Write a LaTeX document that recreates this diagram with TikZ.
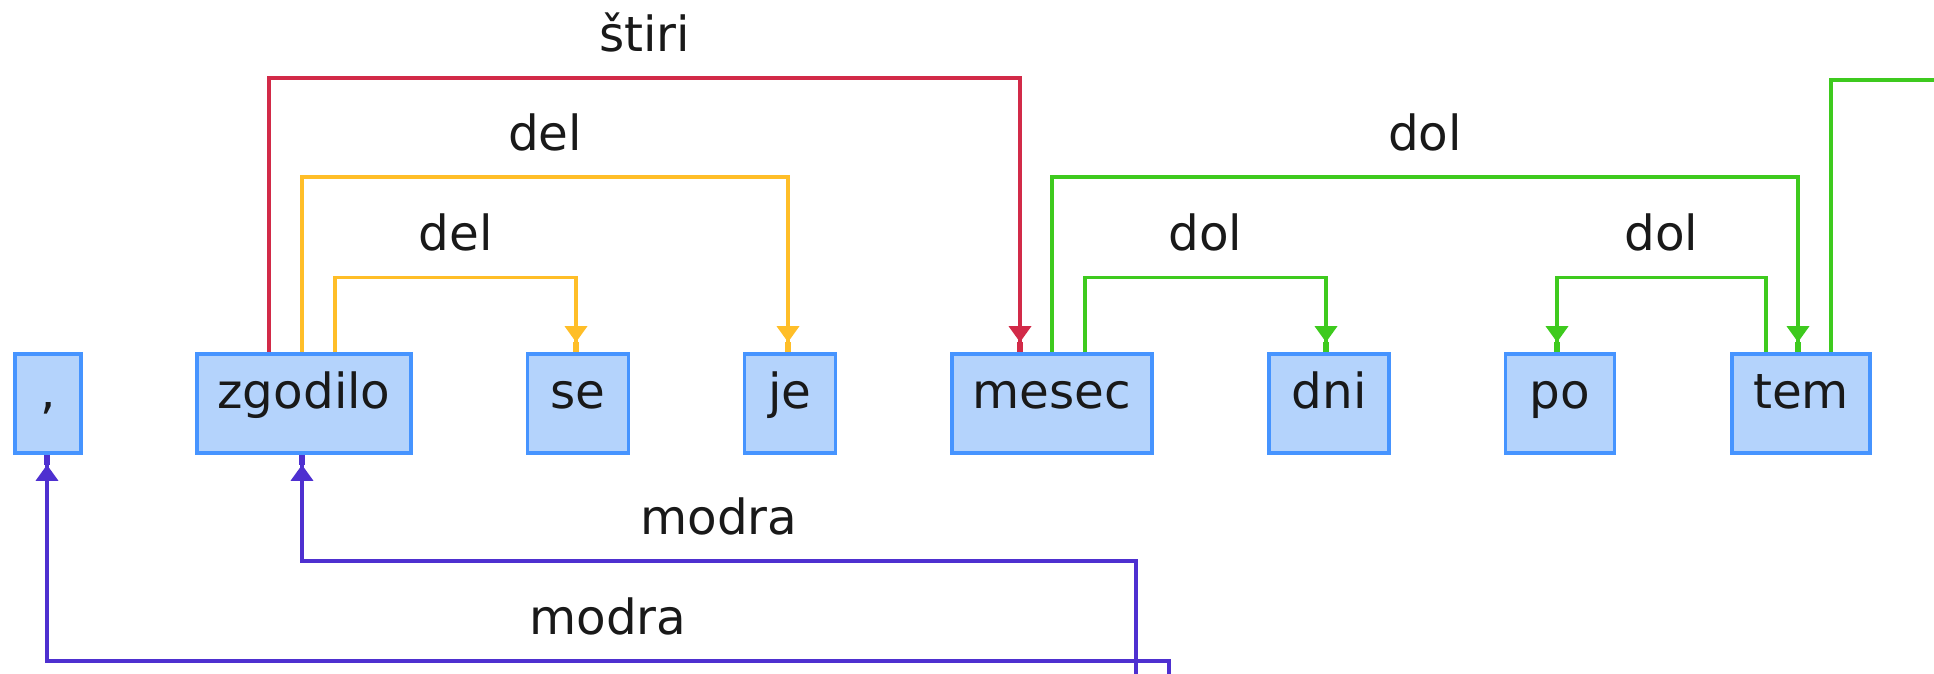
\documentclass[tikz,border=0pt]{standalone}
\usepackage{fontspec}
\setmainfont{DejaVu Sans}
\usetikzlibrary{arrows.meta,calc}
\definecolor{boxfill}{RGB}{180,211,252}
\definecolor{boxline}{RGB}{70,148,255}
\definecolor{cred}{RGB}{210,42,72}
\definecolor{cyel}{RGB}{255,190,40}
\definecolor{cgrn}{RGB}{62,202,30}
\definecolor{cpur}{RGB}{78,48,208}
\begin{document}
\begin{tikzpicture}[x=0.5pt,y=-0.5pt,
  tok/.style={draw=boxline, fill=boxfill, line width=1.8pt, inner sep=0pt,
    minimum height=49.5pt, text height=0.75em, text depth=0.25em,
    font=\fontsize{24.2}{29}\selectfont, text=black!90},
  lab/.style={anchor=base, yshift=13.5pt, inner sep=0pt,
    font=\fontsize{24.2}{29}\selectfont, text=black!90},
  dep/.style={line width=1.7pt,
    -{Triangle[width=11pt,length=8pt] Rectangle[width=3pt,length=5pt]}},
  plain/.style={line width=1.7pt}]
\useasboundingbox (0,0) rectangle (1934,674);
\node[tok, minimum width=33pt]  (comma)   at (48,403.5)   {,};
\node[tok, minimum width=107pt] (zgodilo) at (304,403.5)  {zgodilo};
\node[tok, minimum width=50.5pt](se)      at (578,403.5)  {se};
\node[tok, minimum width=45.5pt](je)      at (790,403.5)  {je};
\node[tok, minimum width=100pt] (mesec)   at (1052,403.5) {mesec};
\node[tok, minimum width=60pt]  (dni)     at (1329,403.5) {dni};
\node[tok, minimum width=54.5pt](po)      at (1560,403.5) {po};
\node[tok, minimum width=69pt]  (tem)     at (1801,403.5) {tem};
% red
\draw[dep, cred] ($(zgodilo.north)+(-35,0)$) -- ++(0,-274)
  -| node[pos=0.25, lab]{štiri} ($(mesec.north)+(-32,0)$);
% yellow
\draw[dep, cyel] ($(zgodilo.north)+(-2,0)$) -- ++(0,-175)
  -| node[pos=0.25, lab]{del} ($(je.north)+(-2,0)$);
\draw[dep, cyel] ($(zgodilo.north)+(31,0)$) -- ++(0,-75)
  -| node[pos=0.25, lab]{del} ($(se.north)+(-2,0)$);
% green
\draw[dep, cgrn] (mesec.north) -- ++(0,-175)
  -| node[pos=0.25, lab]{dol} ($(tem.north)+(-3,0)$);
\draw[dep, cgrn] ($(mesec.north)+(33,0)$) -- ++(0,-75)
  -| node[pos=0.25, lab]{dol} ($(dni.north)+(-3,0)$);
\draw[dep, cgrn] ($(tem.north)+(-35,0)$) -- ++(0,-75)
  -| node[pos=0.25, lab]{dol} ($(po.north)+(-3,0)$);
\coordinate (gend) at (1940,80);
\draw[plain, cgrn] ($(tem.north)+(30,0)$) |- (gend);
% purple
\coordinate (pu1) at (1136,690);
\coordinate (pu2) at (1169,690);
\draw[dep, cpur] (pu1) -- (1136,561)
  -| node[pos=0.25, lab]{modra} ($(zgodilo.south)+(-2,0)$);
\draw[dep, cpur] (pu2) -- (1169,661)
  -| node[pos=0.25, lab]{modra} ($(comma.south)+(-1,0)$);
\end{tikzpicture}
\end{document}
